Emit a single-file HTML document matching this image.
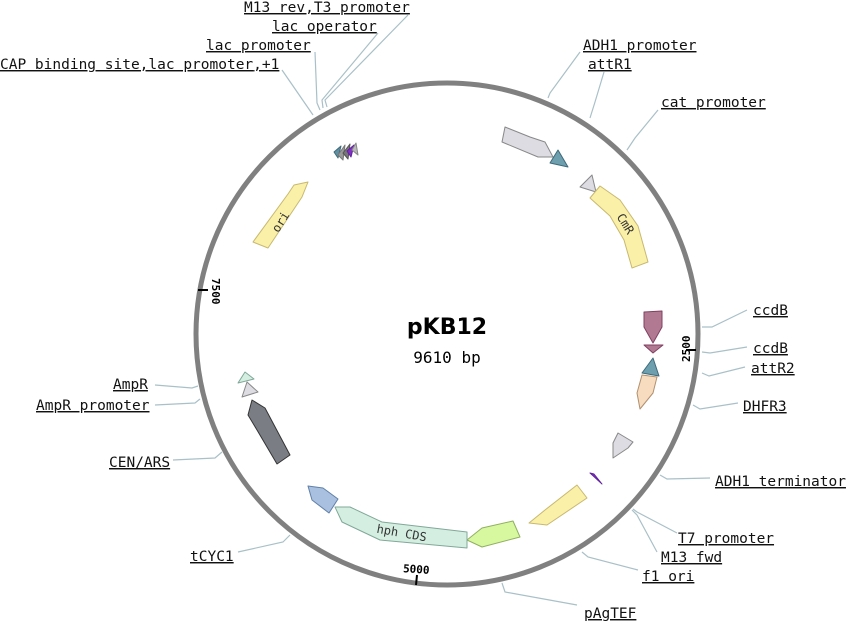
<!DOCTYPE html>
<html><head><meta charset="utf-8"><style>
html,body{margin:0;padding:0;background:#fff;}
svg{display:block;}
.l{font-family:"DejaVu Sans Mono","Liberation Mono",monospace;font-size:14.5px;fill:#111;text-decoration:underline;}
.ln{fill:none;stroke:#a9c0c8;stroke-width:1.2;}
</style></head><body>
<svg width="848" height="622" viewBox="0 0 848 622" xmlns="http://www.w3.org/2000/svg">
<circle cx="447" cy="334" r="251" fill="none" stroke="#808080" stroke-width="5"/>
<!-- ticks -->
<line x1="198" y1="290" x2="208" y2="290" stroke="#000" stroke-width="2"/>
<text x="0" y="0" transform="translate(212,278) rotate(90)" font-family="DejaVu Sans Mono,monospace" font-size="11" font-weight="bold">7500</text>
<line x1="696" y1="350" x2="686" y2="350" stroke="#000" stroke-width="2"/>
<text x="0" y="0" transform="translate(690,362) rotate(-90)" font-family="DejaVu Sans Mono,monospace" font-size="11" font-weight="bold">2500</text>
<line x1="416" y1="585" x2="417" y2="575" stroke="#000" stroke-width="2"/>
<text x="403" y="573" transform="rotate(4,416,570)" font-family="DejaVu Sans Mono,monospace" font-size="11" font-weight="bold">5000</text>
<!-- title -->
<text x="447" y="334" text-anchor="middle" font-family="DejaVu Sans,Liberation Sans,sans-serif" font-size="22" font-weight="bold">pKB12</text>
<text x="447" y="363" text-anchor="middle" font-family="DejaVu Sans Mono,monospace" font-size="16">9610 bp</text>
<!-- features -->
<g stroke-linejoin="round">
<polygon points="334,152 341,146 338,158" fill="#5f8fa0" stroke="#3d6a7a"/>
<polygon points="338,155 345,145 343,160" fill="#999" stroke="#777"/>
<polygon points="343,153 350,144 348,159" fill="#777" stroke="#555"/>
<polygon points="347,151 354,145 351,157" fill="#8030c0" stroke="#6020a0"/>
<polygon points="352,150 356,143 358,155" fill="#bbb" stroke="#888"/>
<polygon points="253,242 268,248 302,197 308,182 294,185 288,194" fill="#faf0a8" stroke="#c8b870"/>
<text transform="translate(284,224) rotate(-58)" text-anchor="middle" font-family="DejaVu Sans Mono,monospace" font-size="12" fill="#333">ori</text>
<polygon points="502,142 505,127 530,137 545,142 553,157 538,157" fill="#dcdce2" stroke="#888"/>
<polygon points="550,163 558,150 568,167" fill="#6e9fae" stroke="#3d6a7a"/>
<polygon points="580,187 592,175 596,192" fill="#dcdce2" stroke="#888"/>
<polygon points="590,198 600,186 620,200 638,226 648,262 632,268 624,240 610,216" fill="#faf0a8" stroke="#c8b870"/>
<text transform="translate(622,226) rotate(58)" text-anchor="middle" font-family="DejaVu Sans Mono,monospace" font-size="12" fill="#333">CmR</text>
<polygon points="644,312 662,311 662,327 653,343 644,327" fill="#b27a92" stroke="#804060"/>
<polygon points="644,345 663,345 653,353" fill="#b27a92" stroke="#804060"/>
<polygon points="642,373 653,358 659,376" fill="#6e9fae" stroke="#3d6a7a"/>
<polygon points="637,393 642,375 657,377 653,393 640,409" fill="#f8dcc0" stroke="#b09070"/>
<polygon points="613,443 618,433 633,442 628,448 613,458" fill="#dcdce2" stroke="#888"/>
<polygon points="590,473 594,474 602,484" fill="#8030c0" stroke="#6020a0"/>
<polygon points="529,523 545,510 577,485 587,498 547,525" fill="#faf0a8" stroke="#c8b870"/>
<polygon points="467,540 482,528 513,521 520,537 482,547" fill="#d8f8a0" stroke="#90b060"/>
<polygon points="335,507 350,507 382,522 467,532 467,548 380,540 342,522" fill="#d4efe2" stroke="#80a898"/>
<text transform="translate(401,537) rotate(10)" text-anchor="middle" font-family="DejaVu Sans Mono,monospace" font-size="12" fill="#333">hph CDS</text>
<polygon points="308,486 323,488 338,499 329,513 312,500" fill="#aac0e0" stroke="#6080a8"/>
<polygon points="248,415 252,400 265,408 290,455 277,464 257,430" fill="#7a7e84" stroke="#333"/>
<polygon points="242,397 247,382 258,392" fill="#dcdce2" stroke="#888"/>
<polygon points="238,383 245,372 254,379" fill="#d4efe2" stroke="#80a898"/>
</g>
<!-- leaders -->
<polyline class="ln" points="282,70 313,115"/>
<polyline class="ln" points="315,52 317,103 320,110"/>
<polyline class="ln" points="378,33 322,100 323,108"/>
<polyline class="ln" points="408,15 325,100 327,107"/>
<polyline class="ln" points="580,52 550,93 548,98"/>
<polyline class="ln" points="604,72 595,102 590,118"/>
<polyline class="ln" points="658,110 635,138 627,150"/>
<polyline class="ln" points="747,310 712,327 702,327"/>
<polyline class="ln" points="747,347 710,353 702,352"/>
<polyline class="ln" points="745,367 709,376 702,373"/>
<polyline class="ln" points="738,403 700,409 693,405"/>
<polyline class="ln" points="710,478 667,479 660,475"/>
<polyline class="ln" points="677,533 637,512 633,509"/>
<polyline class="ln" points="657,552 637,515 632,510"/>
<polyline class="ln" points="638,570 588,557 582,552"/>
<polyline class="ln" points="577,605 505,592 502,583"/>
<polyline class="ln" points="155,385 192,388 198,386"/>
<polyline class="ln" points="155,405 195,403 200,399"/>
<polyline class="ln" points="173,460 215,458 222,452"/>
<polyline class="ln" points="238,552 283,542 290,535"/>
<!-- labels -->
<text class="l" x="244" y="12">M13 rev,T3 promoter</text>
<text class="l" x="272" y="31">lac operator</text>
<text class="l" x="206" y="50">lac promoter</text>
<text class="l" x="0" y="69">CAP binding site,lac promoter<tspan style="text-decoration:none">,+1</tspan></text>
<text class="l" x="583" y="50">ADH1 promoter</text>
<text class="l" x="588" y="69">attR1</text>
<text class="l" x="661" y="107">cat promoter</text>
<text class="l" x="753" y="315">ccdB</text>
<text class="l" x="753" y="353">ccdB</text>
<text class="l" x="751" y="373">attR2</text>
<text class="l" x="743" y="411">DHFR3</text>
<text class="l" x="715" y="486">ADH1 terminator</text>
<text class="l" x="678" y="543">T7 promoter</text>
<text class="l" x="661" y="562">M13 fwd</text>
<text class="l" x="642" y="581">f1 ori</text>
<text class="l" x="584" y="618">pAgTEF</text>
<text class="l" x="113" y="389">AmpR</text>
<text class="l" x="36" y="410">AmpR promoter</text>
<text class="l" x="109" y="467">CEN/ARS</text>
<text class="l" x="190" y="561">tCYC1</text>
</svg>
</body></html>
